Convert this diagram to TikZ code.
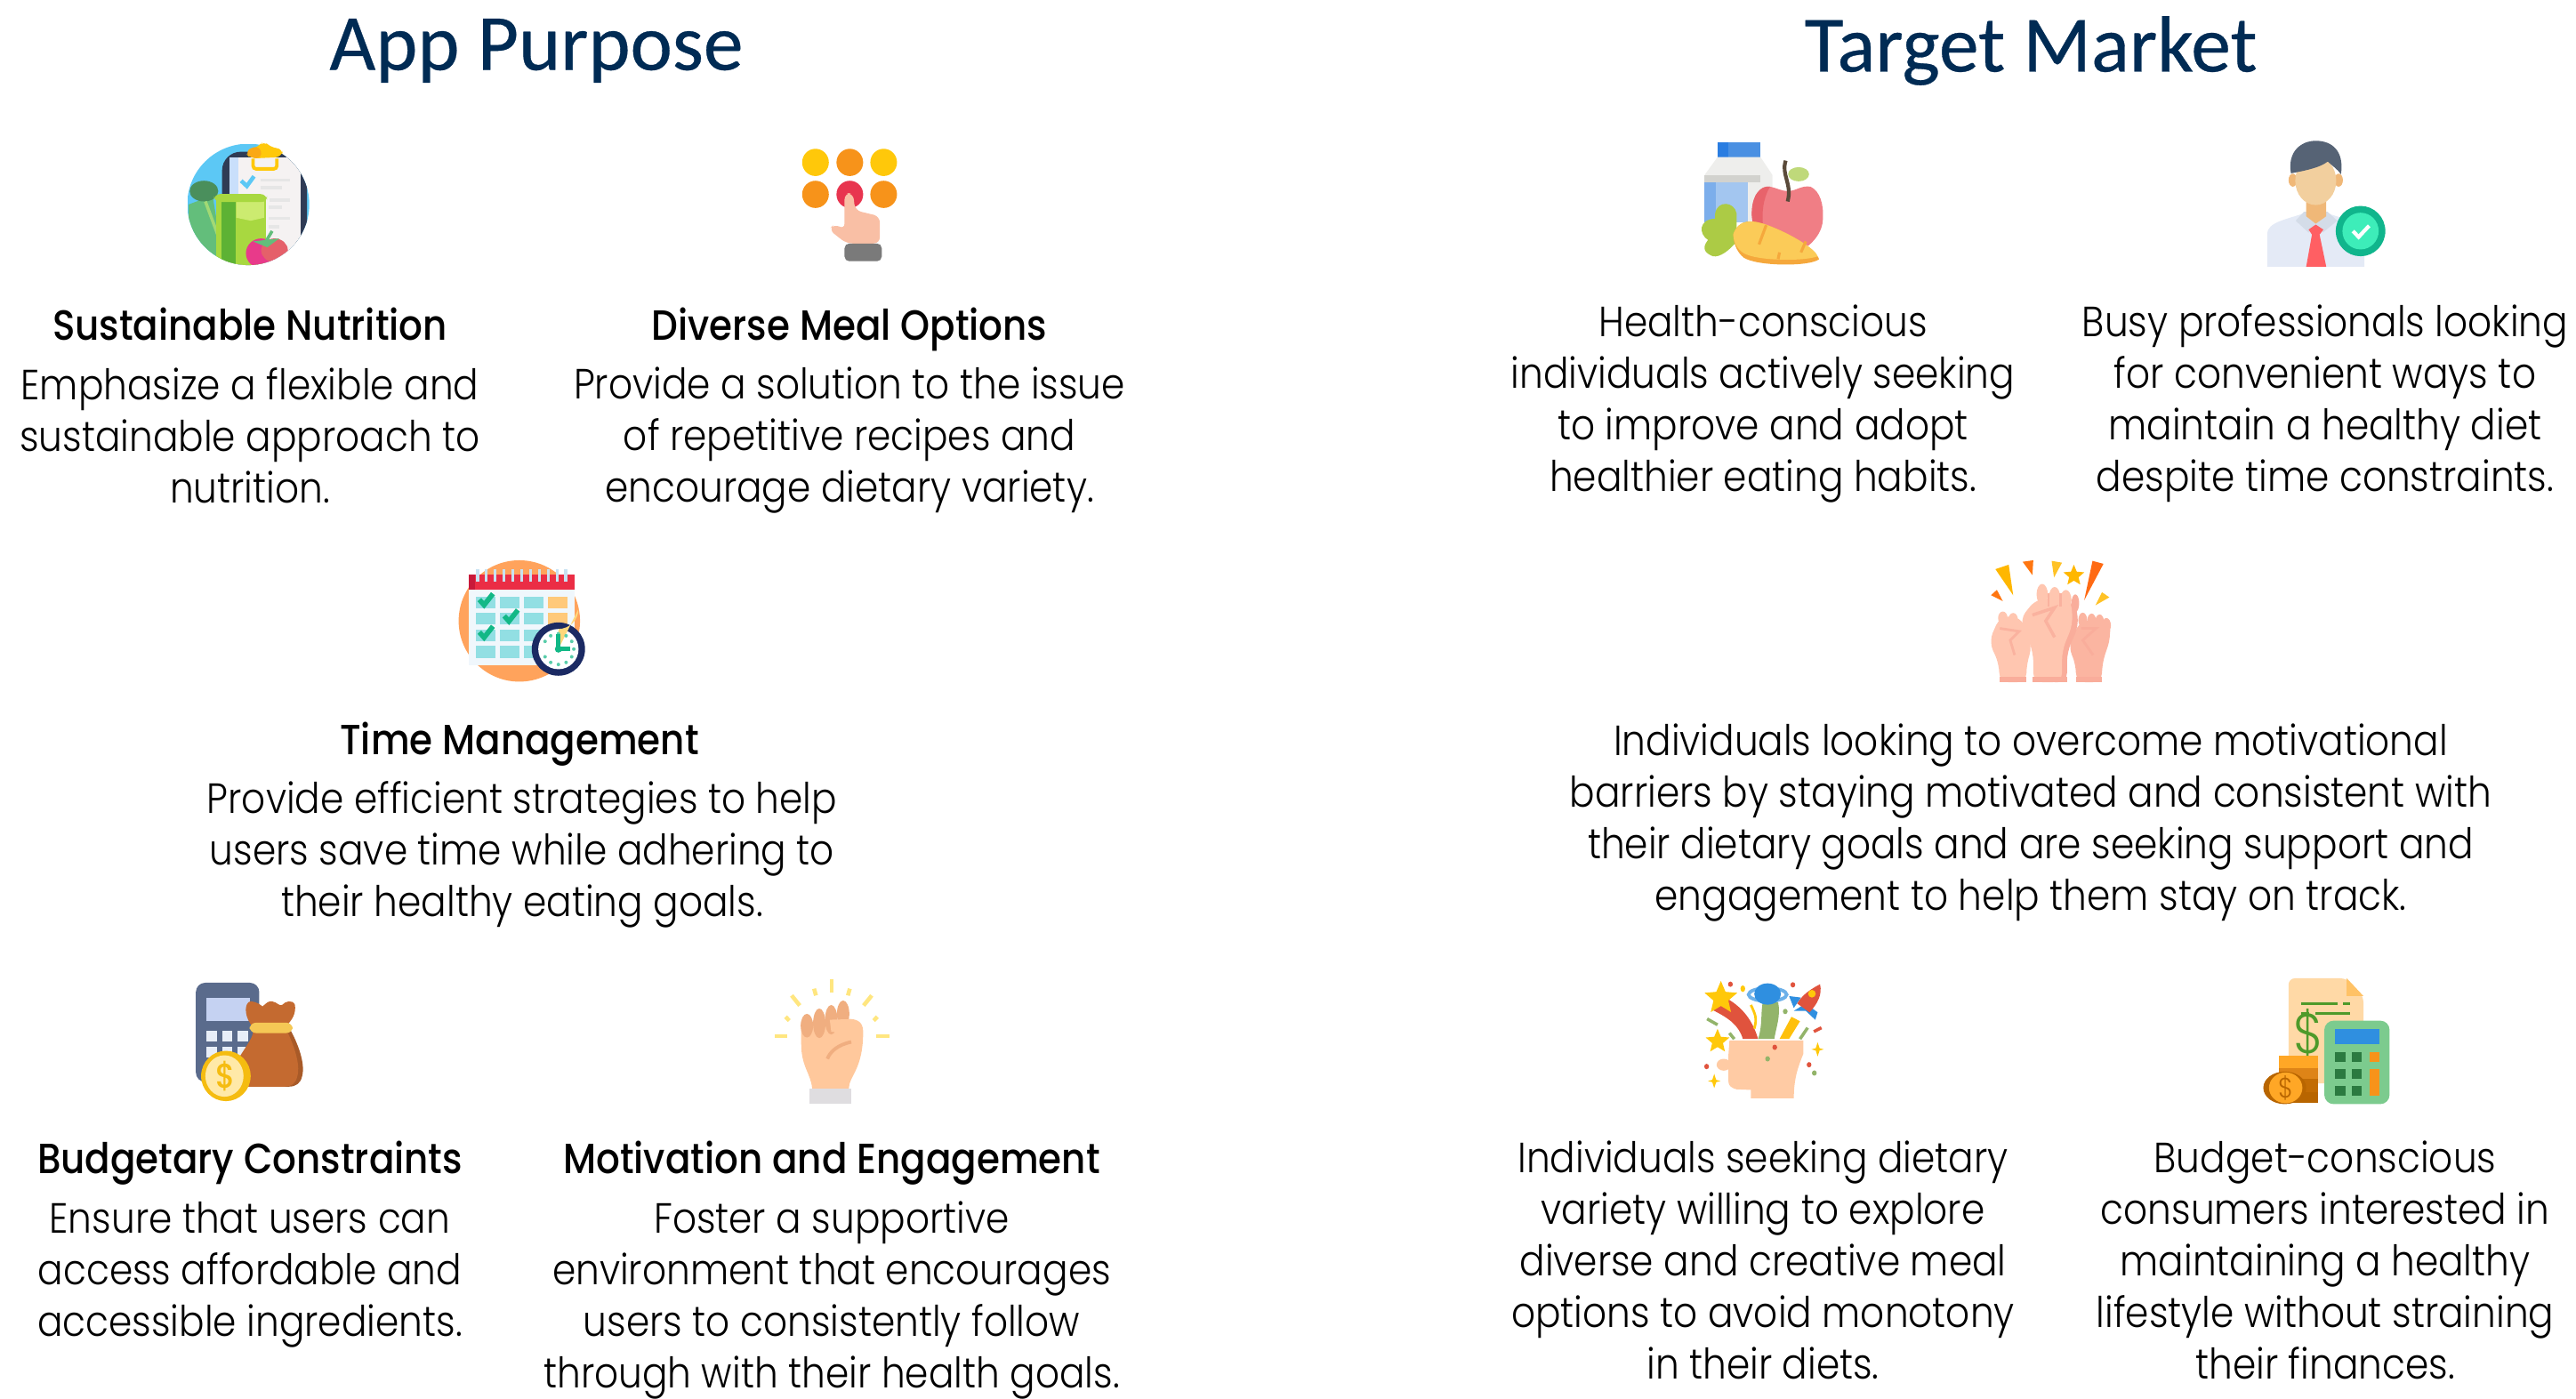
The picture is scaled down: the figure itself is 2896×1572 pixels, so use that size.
\documentclass[tikz,border=0pt]{standalone}
\usepackage{fontspec}
\usepackage{xcolor}
\usetikzlibrary{shapes.geometric}
\newfontfamily\bodyfont{Poppins Light}[FakeStretch=0.89]
\newfontfamily\headfont{Poppins Medium}[FakeStretch=0.885]
\newfontfamily\titlefont{Carlito}[FakeBold=0.35]
\definecolor{navytitle}{HTML}{002B54}
\definecolor{skyblue}{HTML}{5CC8F5}
\definecolor{slatedark}{HTML}{2F3B55}
\definecolor{paperwhite}{HTML}{F5F2F2}
\definecolor{paperblue}{HTML}{C9DFFB}
\definecolor{paperline}{HTML}{E6E6E6}
\definecolor{sunyellow}{HTML}{FFC80A}
\definecolor{sunorange}{HTML}{F7931A}
\definecolor{leafdark}{HTML}{4A8F5C}
\definecolor{leafmid}{HTML}{63BE7B}
\definecolor{limemid}{HTML}{A8D840}
\definecolor{limedark}{HTML}{5DB234}
\definecolor{limelight}{HTML}{CCEB70}
\definecolor{berrypink}{HTML}{E83A8A}
\definecolor{berryred}{HTML}{E5606A}
\definecolor{keyred}{HTML}{E8354F}
\definecolor{skinpink}{HTML}{F9BFA5}
\definecolor{cuffgrey}{HTML}{7A7A7A}
\definecolor{calorange}{HTML}{FFA35C}
\definecolor{calbody}{HTML}{F0F7FC}
\definecolor{calred}{HTML}{EB2D45}
\definecolor{caldark}{HTML}{C8193A}
\definecolor{calring}{HTML}{C8E2F2}
\definecolor{calcell}{HTML}{92DFE3}
\definecolor{calcellb}{HTML}{FFC97A}
\definecolor{checkgreen}{HTML}{12B886}
\definecolor{clocknavy}{HTML}{1B2A63}
\definecolor{clockwedge}{HTML}{FFD77A}
\definecolor{calcslate}{HTML}{5A6B8C}
\definecolor{calcscreen}{HTML}{C5D2F2}
\definecolor{calckey}{HTML}{E8EEF8}
\definecolor{bagbrown}{HTML}{C46A30}
\definecolor{bagdark}{HTML}{A85A28}
\definecolor{bagband}{HTML}{F5C855}
\definecolor{coingold}{HTML}{F5BC10}
\definecolor{coinlight}{HTML}{FFE9A8}
\definecolor{fistskin}{HTML}{FFC89C}
\definecolor{fistdark}{HTML}{F0AE80}
\definecolor{sleevegrey}{HTML}{DFDDE0}
\definecolor{rayyellow}{HTML}{FFE680}
\definecolor{capblue}{HTML}{4A90E2}
\definecolor{capdark}{HTML}{2A7DE1}
\definecolor{cartongrey}{HTML}{EEEEEC}
\definecolor{cartonband}{HTML}{D2D2CE}
\definecolor{milkblue}{HTML}{A3C6F0}
\definecolor{milkdark}{HTML}{7CAEEB}
\definecolor{applered}{HTML}{F07E85}
\definecolor{appledark}{HTML}{E8636B}
\definecolor{stembrown}{HTML}{5A4A3A}
\definecolor{peagreen}{HTML}{BFD97A}
\definecolor{leafyellow}{HTML}{ACCB45}
\definecolor{carrotyellow}{HTML}{FBCB58}
\definecolor{carrotedge}{HTML}{F5A83C}
\definecolor{hairslate}{HTML}{566375}
\definecolor{faceskin}{HTML}{F2CF9E}
\definecolor{earskin}{HTML}{F0B878}
\definecolor{shirtblue}{HTML}{E4EAF6}
\definecolor{collargrey}{HTML}{D4DCE8}
\definecolor{tiered}{HTML}{FF5F63}
\definecolor{badgedark}{HTML}{10B58C}
\definecolor{badgelight}{HTML}{3DEDB9}
\definecolor{peachskin}{HTML}{FFC6B0}
\definecolor{peachdark}{HTML}{F9AD9B}
\definecolor{flameorange}{HTML}{FF6A13}
\definecolor{flameyellow}{HTML}{FFB700}
\definecolor{headskin}{HTML}{FFCBA4}
\definecolor{streamred}{HTML}{E0533D}
\definecolor{streamgreen}{HTML}{93B46A}
\definecolor{planetblue}{HTML}{2F8FE0}
\definecolor{billpeach}{HTML}{FFD9A6}
\definecolor{billfold}{HTML}{FFC266}
\definecolor{billgreen}{HTML}{4E9A2A}
\definecolor{keypadgreen}{HTML}{7CCB8E}
\definecolor{keydarkgreen}{HTML}{2B7A40}
\definecolor{coinamber}{HTML}{FFA726}
\definecolor{coinbrown}{HTML}{B86500}
\tikzset{
	bodytext/.style={align=center,inner sep=0pt,font=\bodyfont\fontsize{13.5}{16.5}\selectfont},
	headtext/.style={align=center,inner sep=0pt,font=\headfont\fontsize{13.5}{16.5}\selectfont},
	maintitle/.style={inner sep=0pt,text=navytitle,font=\titlefont\fontsize{25.5}{30}\selectfont},
	widecrop/.style={x=0.005357cm,y=-0.003333cm},
	squarecrop/.style={x=0.003333cm,y=-0.003333cm},
}
\begin{document}
\begin{tikzpicture}[x=0.01cm,y=-0.01cm]
	\useasboundingbox (0,0) rectangle (2896,1572);

	\node[maintitle] (purposetitle) at (603,57) {App Purpose};
	\node[maintitle] (markettitle) at (2283,57) {Target Market};

	\node[headtext] (nutritionhead) at (281,364) {Sustainable Nutrition};
	\node[bodytext] (nutritionbody) at (281,490) {Emphasize a flexible and\\sustainable approach to\\nutrition.};
	\node[headtext] (mealhead) at (955,370) {Diverse Meal Options};
	\node[bodytext] (mealbody) at (955,495) {Provide a solution to the issue\\of repetitive recipes and\\encourage dietary variety.};
	\node[headtext] (timehead) at (584,837) {Time Management};
	\node[bodytext] (timebody) at (587,961) {Provide efficient strategies to help\\users save time while adhering to\\their healthy eating goals.};
	\node[headtext] (budgethead) at (281,1308) {Budgetary Constraints};
	\node[bodytext] (budgetbody) at (281,1433) {Ensure that users can\\access affordable and\\accessible ingredients.};
	\node[headtext] (motivehead) at (935,1308) {Motivation and Engagement};
	\node[bodytext] (motivebody) at (935,1462) {Foster a supportive\\environment that encourages\\users to consistently follow\\through with their health goals.};

	\node[bodytext] (healthbody) at (1982,454) {Health-conscious\\individuals actively seeking\\to improve and adopt\\healthier eating habits.};
	\node[bodytext] (busybody) at (2614,454) {Busy professionals looking\\for convenient ways to\\maintain a healthy diet\\despite time constraints.};
	\node[bodytext] (barrierbody) at (2283,925) {Individuals looking to overcome motivational\\barriers by staying motivated and consistent with\\their dietary goals and are seeking support and\\engagement to help them stay on track.};
	\node[bodytext] (varietybody) at (1982,1417) {Individuals seeking dietary\\variety willing to explore\\diverse and creative meal\\options to avoid monotony\\in their diets.};
	\node[bodytext] (pricebody) at (2614,1417) {Budget-conscious\\consumers interested in\\maintaining a healthy\\lifestyle without straining\\their finances.};

	% clipboard and keypad
	\begin{scope}[shift={(180,130)},widecrop]
		\begin{scope}
			\clip (185,300) circle [x radius=128,y radius=205];
			\fill[skyblue] (57,95) rectangle (313,505);
			\fill[slatedark,rounded corners=6pt] (130,122) rectangle (308,520);
			\fill[paperwhite] (145,142) rectangle (295,520);
			\fill[paperblue] (145,142) rectangle (165,520);
			\foreach \xa/\xb/\yy in {210/272/218,210/255/243,230/272/285,228/255/310,228/272/347,228/250/375}
				\draw[paperline,line width=1.1pt] (\xa,\yy) -- (\xb,\yy);
			\fill[leafmid] (60,300) -- (110,270) -- (135,510) -- (60,510) -- cycle;
			\fill[leafdark] (92,255) circle [x radius=30,y radius=35];
			\draw[limelight!60!leafmid,line width=1pt] (95,290) -- (125,420);
			\fill[limemid] (118,275) rectangle (222,510);
			\fill[limedark] (128,290) rectangle (158,510);
			\fill[limelight] (160,290) -- (218,290) -- (218,345) -- (190,355) -- (160,345) -- cycle;
			\fill[limemid,rounded corners=2pt] (113,265) rectangle (224,292);
			\fill[berrypink] (212,465) circle [x radius=32,y radius=50];
			\fill[berryred] (240,455) circle [x radius=28,y radius=40];
			\fill[leafmid] (195,425) -- (250,415) -- (225,445) -- cycle;
			\draw[leafmid,line width=1pt] (235,390) -- (222,425);
		\end{scope}
		\fill[sunyellow,rounded corners=2pt] (218,85) -- (232,108) -- (258,112) -- (255,140) -- (190,145) -- (178,125) -- (205,105) -- cycle;
		\fill[sunorange!60!sunyellow,rounded corners=2pt] (208,100) -- (178,118) -- (190,145) -- (215,142) -- cycle;
		\draw[sunyellow,line width=1.1pt,rounded corners=1pt] (195,145) -- (195,180) -- (245,180) -- (245,145);
		\draw[skyblue,line width=1.3pt] (170,220) -- (182,238) -- (197,205);

		\foreach \xx/\yy/\cc in {1375/158/sunyellow,1447/158/sunorange,1518/158/sunyellow,1375/266/sunorange,1447/266/keyred,1518/266/sunorange}
			\fill[\cc] (\xx,\yy) circle [x radius=28,y radius=46];
		\fill[skinpink,rounded corners=2pt] (1436,262) -- (1454,262) -- (1458,320) -- (1510,340) -- (1510,432) -- (1440,432) -- (1403,385) -- (1415,365) -- (1436,385) -- cycle;
		\fill[cuffgrey,rounded corners=1.5pt] (1436,432) rectangle (1514,492);
	\end{scope}

	% calendar
	\begin{scope}[shift={(480,610)},squarecrop]
		\fill[calorange] (312,265) circle [radius=205];
		\fill[calbody] (140,160) rectangle (498,415);
		\fill[calred] (140,108) rectangle (498,160);
		\fill[caldark] (140,108) rectangle (162,160);
		\foreach \xx in {170,200,...,470}
			\draw[calring,line width=1.1pt] (\xx,90) -- (\xx,132);
		\foreach \xa/\xb in {165/232,247/313,327/393}
			\foreach \ya/\yb in {183/222,238/277,293/333,348/390}
				\fill[calcell] (\xa,\ya) rectangle (\xb,\yb);
		\fill[calcellb] (408,183) rectangle (474,222);
		\fill[calcellb] (408,238) rectangle (474,277);
		\foreach \xx/\yy in {199/193,283/248,199/303}
			\draw[checkgreen,line width=1.6pt] (\xx-22,\yy) -- (\xx-6,\yy+18) -- (\xx+24,\yy-20);
		\fill[clocknavy] (444,360) circle [radius=90];
		\fill[white] (444,360) circle [radius=68];
		\fill[clockwedge] (444,360) -- (444,292) arc [start angle=90,end angle=0,radius=68] -- cycle;
		\foreach \aa in {30,60,...,330}
			\fill[checkgreen!70] ({444+52*cos(\aa+180)},{360+52*sin(\aa+180)}) circle [radius=6];
		\draw[checkgreen,line width=1.4pt] (444,310) -- (444,360) -- (485,360);
		\fill[checkgreen] (444,360) circle [radius=12];
	\end{scope}

	% calculator with bag, raised fist
	\begin{scope}[shift={(180,1080)},widecrop]
		\fill[calcslate,rounded corners=3pt] (75,75) rectangle (208,410);
		\fill[calcscreen] (97,125) rectangle (188,205);
		\foreach \xa/\xb in {97/120,130/152,163/185}
			\foreach \ya/\yb in {237/273,292/328}
				\fill[calckey] (\xa,\ya) rectangle (\xb,\yb);
		\fill[bagdark] (270,225) .. controls (290,280) and (305,350) .. (298,390) .. controls (295,415) and (285,426) .. (270,426) -- (240,426) -- (240,225) -- cycle;
		\fill[bagbrown] (190,215) .. controls (175,180) and (178,140) .. (190,138) .. controls (205,140) and (210,150) .. (215,155) .. controls (222,145) and (228,135) .. (235,138) .. controls (245,140) and (250,155) .. (256,150) .. controls (262,138) and (278,130) .. (283,150) .. controls (285,180) and (278,200) .. (262,225) .. controls (280,280) and (295,350) .. (288,390) .. controls (285,415) and (275,426) .. (262,426) -- (180,426) -- (165,330) .. controls (180,290) and (195,260) .. (195,240) -- cycle;
		\fill[bagband,rounded corners=2pt] (188,210) rectangle (278,245);
		\fill[coingold] (138,390) circle [x radius=52,y radius=85];
		\fill[coinlight] (135,390) circle [x radius=40,y radius=70];
		\node[text=coingold,inner sep=0pt,font=\headfont\fontsize{11}{13}\selectfont] (bagdollar) at (137,390) {\$};

		\foreach \xa/\ya/\xb/\yb in {1409/62/1409/108,1372/95/1376/118,1447/95/1443/118,1325/118/1342/152,1493/118/1476/152,1312/190/1320/203,1505/190/1497/203,1290/255/1316/255,1503/255/1530/255}
			\draw[rayyellow,line width=1.3pt] (\xa,\ya) -- (\xb,\yb);
		\fill[fistskin] (1345,280) .. controls (1345,360) and (1365,380) .. (1368,432) -- (1445,432) .. controls (1445,390) and (1475,370) .. (1475,240) .. controls (1475,205) and (1460,195) .. (1440,198) -- (1345,210) -- cycle;
		\foreach \xx/\yy/\rr in {1357/220/40,1383/212/50,1408/200/50,1433/180/45}
			\fill[fistdark] (\xx,\yy) circle [x radius=13,y radius=\rr];
		\fill[fistskin] (1405,200) -- (1450,198) -- (1462,225) -- (1450,250) -- (1408,240) -- cycle;
		\draw[fistdark,line width=1.1pt] (1450,275) .. controls (1420,285) and (1405,310) .. (1400,332);
		\fill[sleevegrey] (1362,432) rectangle (1450,485);
	\end{scope}

	% milk and apple, professional
	\begin{scope}[shift={(1880,140)},widecrop]
		\fill[capblue] (95,60) rectangle (185,110);
		\fill[capdark] (95,60) rectangle (118,110);
		\fill[cartongrey] (95,110) -- (185,110) -- (210,170) -- (210,330) -- (68,330) -- (68,170) -- cycle;
		\fill[cartonband] (68,170) rectangle (185,195);
		\fill[milkblue] (68,195) rectangle (158,330);
		\fill[milkdark] (68,195) rectangle (92,330);
		\fill[applered] (167,310) .. controls (165,240) and (185,205) .. (205,210) .. controls (220,215) and (230,225) .. (242,225) .. controls (260,225) and (270,205) .. (290,210) .. controls (310,225) and (318,270) .. (316,320) .. controls (315,360) and (300,390) .. (285,410) -- (170,350) -- cycle;
		\fill[appledark] (167,310) .. controls (165,240) and (185,205) .. (205,210) .. controls (190,250) and (188,300) .. (190,335) -- (170,350) -- cycle;
		\draw[stembrown,line width=1.2pt] (238,122) .. controls (228,170) and (252,200) .. (242,260);
		\fill[peagreen] (265,168) circle [x radius=22,y radius=24];
		\fill[leafyellow] (90,300) .. controls (95,255) and (130,260) .. (135,300) -- (135,395) .. controls (120,425) and (100,450) .. (85,445) .. controls (70,435) and (60,420) .. (75,390) .. controls (55,370) and (55,320) .. (90,318) -- cycle;
		\fill[carrotedge] (128,370) .. controls (140,320) and (165,320) .. (200,340) .. controls (250,370) and (300,420) .. (308,455) .. controls (290,480) and (180,480) .. (150,450) .. controls (135,430) and (128,400) .. (128,370) -- cycle;
		\fill[carrotyellow] (128,370) .. controls (140,320) and (165,320) .. (200,340) .. controls (250,370) and (300,420) .. (305,445) .. controls (280,462) and (180,462) .. (150,435) .. controls (135,420) and (128,395) .. (128,370) -- cycle;
		\draw[carrotedge,line width=.9pt] (197,340) -- (182,405) (225,432) -- (222,455) (280,395) -- (270,432);

		\fill[shirtblue] (1248,480) -- (1248,370) .. controls (1248,330) and (1290,320) .. (1325,300) -- (1375,300) .. controls (1410,320) and (1452,330) .. (1452,370) -- (1452,480) -- cycle;
		\fill[collargrey] (1325,295) -- (1375,295) -- (1395,325) -- (1365,365) -- (1350,335) -- (1335,365) -- (1308,325) -- cycle;
		\fill[earskin] (1330,250) -- (1372,250) -- (1372,310) -- (1350,335) -- (1330,310) -- cycle;
		\foreach \xx in {1302,1398}
			\fill[earskin] (\xx,188) circle [x radius=9,y radius=22];
		\fill[faceskin] (1350,190) circle [x radius=43,y radius=82];
		\fill[hairslate] (1298,165) .. controls (1290,90) and (1320,55) .. (1350,55) .. controls (1385,55) and (1410,90) .. (1403,168) .. controls (1395,150) and (1385,140) .. (1375,125) .. controls (1360,145) and (1330,155) .. (1298,165) -- cycle;
		\fill[tiered] (1350,338) -- (1366,355) -- (1358,372) -- (1372,480) -- (1330,480) -- (1342,372) -- (1335,355) -- cycle;
		\fill[badgedark] (1444,360) circle [x radius=52,y radius=85];
		\fill[badgelight] (1444,360) circle [x radius=38,y radius=62];
		\draw[white,line width=1.2pt] (1428,360) -- (1440,380) -- (1462,342);
	\end{scope}

	% three raised fists
	\begin{scope}[shift={(2200,610)},squarecrop]
		\fill[flameyellow] (130,90) -- (175,75) -- (190,178) -- cycle;
		\fill[flameorange!85!flameyellow] (222,65) -- (258,60) -- (255,110) -- cycle;
		\fill[flameyellow!85!white] (320,62) -- (355,68) -- (328,118) -- cycle;
		\fill[flameorange] (458,62) -- (495,72) -- (430,195) -- cycle;
		\fill[flameyellow!85!white] (490,168) -- (515,185) -- (468,212) -- cycle;
		\fill[flameorange!85!flameyellow] (115,178) -- (135,160) -- (155,198) -- cycle;
		\node[star,star points=5,star point ratio=2.2,fill=flameyellow,inner sep=0pt,minimum size=7pt] (cheerstar) at (395,112) {};
		\fill[peachskin,rounded corners=3pt] (143,472) -- (143,410) -- (108,335) -- (145,250) -- (215,250) -- (255,350) -- (235,410) -- (235,472) -- cycle;
		\foreach \xx/\yy in {155/255,190/260}
			\fill[peachskin] (\xx,\yy) circle [x radius=16,y radius=22];
		\fill[peachdark!70!peachskin,rounded corners=3pt] (402,472) -- (402,410) -- (375,350) -- (420,260) -- (515,270) -- (520,320) -- (490,410) -- (490,472) -- cycle;
		\foreach \xx/\yy in {425/262,455/265,482/268,505/280}
			\fill[peachdark!70!peachskin] (\xx,\yy) circle [x radius=15,y radius=25];
		\fill[peachdark,rounded corners=3pt] (300,472) -- (300,370) -- (330,200) -- (400,200) -- (412,280) -- (372,370) -- (372,472) -- cycle;
		\fill[peachdark] (400,205) circle [x radius=13,y radius=30];
		\fill[peachskin,rounded corners=3pt] (258,472) -- (258,370) -- (212,260) -- (268,190) -- (385,190) -- (392,275) -- (355,365) -- (355,472) -- cycle;
		\foreach \xx/\yy in {288/175,330/185,368/195}
			\fill[peachskin] (\xx,\yy) circle [x radius=19,y radius=35];
		\foreach \xa/\xb in {143/235,255/372,402/490}
			\fill[peachdark] (\xa,455) rectangle (\xb,472);
		\draw[peachdark!80!peachskin,line width=1pt] (255,245) -- (330,220) -- (300,265) -- (330,320);
		\draw[peachdark!80!peachskin,line width=.8pt] (145,290) -- (210,300) -- (180,330) -- (195,380);
		\draw[peachdark,line width=.8pt] (420,290) -- (470,290) -- (425,330) -- (460,380);
		\foreach \xx in {310,350}
			\draw[peachdark!80!peachskin,line width=.7pt] (\xx,170) -- (\xx,215);
	\end{scope}

	% idea head, bill and calculator
	\begin{scope}[shift={(1880,1085)},widecrop]
		\fill[headskin] (120,255) -- (275,255) -- (275,300) .. controls (265,340) and (255,380) .. (255,450) -- (165,450) -- (165,422) -- (135,420) .. controls (122,415) and (118,405) .. (118,395) -- (118,300) -- cycle;
		\fill[headskin] (108,337) circle [x radius=15,y radius=20];
		\fill[streamred] (148,250) .. controls (140,205) and (120,180) .. (82,150) -- (105,105) .. controls (150,140) and (170,195) .. (180,250) -- cycle;
		\fill[streamgreen] (180,250) .. controls (190,200) and (185,160) .. (190,125) -- (222,125) .. controls (228,170) and (218,210) .. (214,250) -- cycle;
		\fill[sunyellow!85!sunorange] (225,250) -- (250,175) -- (268,190) -- (245,250) -- cycle;
		\draw[streamgreen,line width=1pt] (268,250) -- (284,212) (130,250) -- (120,230);
		\draw[sunyellow,line width=.8pt] (165,135) .. controls (175,170) and (178,180) .. (172,215);
		\draw[planetblue!70!white,line width=1.1pt] (200,100) circle [x radius=40,y radius=22];
		\fill[planetblue] (200,98) circle [x radius=28,y radius=36];
		\fill[planetblue] (245,105) -- (270,110) -- (255,145) -- cycle;
		\fill[planetblue] (255,155) -- (280,155) -- (300,185) -- (305,160) -- (280,130) -- cycle;
		\fill[streamred] (310,65) .. controls (280,90) and (270,110) .. (262,130) -- (288,160) .. controls (305,130) and (315,100) .. (310,65) -- cycle;
		\fill[sunyellow] (293,97) circle [x radius=8,y radius=13];
		\node[star,star points=5,star point ratio=2.2,fill=sunyellow,inner sep=0pt,minimum size=11pt] (headstara) at (102,112) {};
		\node[star,star points=5,star point ratio=2.2,fill=sunyellow,inner sep=0pt,minimum size=8pt] (headstarb) at (95,258) {};
		\foreach \xx/\yy in {305/285,88/392}
			\fill[sunyellow] (\xx,\yy-24) -- (\xx+4,\yy-4) -- (\xx+13,\yy) -- (\xx+4,\yy+4) -- (\xx,\yy+24) -- (\xx-4,\yy+4) -- (\xx-13,\yy) -- (\xx-4,\yy-4) -- cycle;
		\foreach \xx/\yy in {122/65,253/67,215/278,287/337,72/343}
			\fill[streamred] (\xx,\yy) circle [x radius=5,y radius=9];
		\foreach \xx/\yy in {200/317,298/365,237/157}
			\fill[streamgreen] (\xx,\yy) circle [x radius=5,y radius=9];
		\fill[sunyellow] (148,80) circle [x radius=5,y radius=11];
		\draw[streamgreen,line width=1pt] (73,182) -- (95,202);
		\draw[streamred,line width=1pt] (297,225) -- (313,212);

		\fill[billpeach,rounded corners=2pt] (1293,400) -- (1293,45) -- (1415,45) -- (1450,105) -- (1450,400) -- cycle;
		\fill[billfold] (1415,45) -- (1450,105) -- (1415,105) -- cycle;
		\draw[billgreen,line width=1pt] (1320,131) -- (1395,131) (1408,131) -- (1422,131) (1320,164) -- (1337,164) (1350,164) -- (1422,164);
		\node[text=billgreen,inner sep=0pt,font=\bodyfont\fontsize{18}{20}\selectfont] (billdollar) at (1335,232) {\$};
		\fill[coinamber] (1272,305) rectangle (1355,350);
		\fill[sunorange!90!black] (1272,350) rectangle (1355,385);
		\fill[coinbrown!85!sunorange] (1272,385) rectangle (1355,430);
		\fill[coinbrown] (1272,430) rectangle (1355,465);
		\fill[coinbrown] (1285,415) circle [x radius=45,y radius=55];
		\fill[coinamber] (1287,415) circle [x radius=35,y radius=52];
		\node[text=coinbrown,inner sep=0pt,font=\bodyfont\fontsize{9}{11}\selectfont] (coindollar) at (1287,415) {\$};
		\fill[keypadgreen,rounded corners=3pt] (1368,188) rectangle (1505,470);
		\fill[planetblue] (1390,215) rectangle (1483,268);
		\foreach \xa/\xb in {1390/1412,1425/1447}
			\foreach \ya/\yb in {295/328,352/385,408/441}
				\fill[keydarkgreen] (\xa,\ya) rectangle (\xb,\yb);
		\fill[sunorange] (1463,295) rectangle (1483,328);
		\fill[sunorange] (1463,352) rectangle (1483,441);
	\end{scope}
\end{tikzpicture}
\end{document}
